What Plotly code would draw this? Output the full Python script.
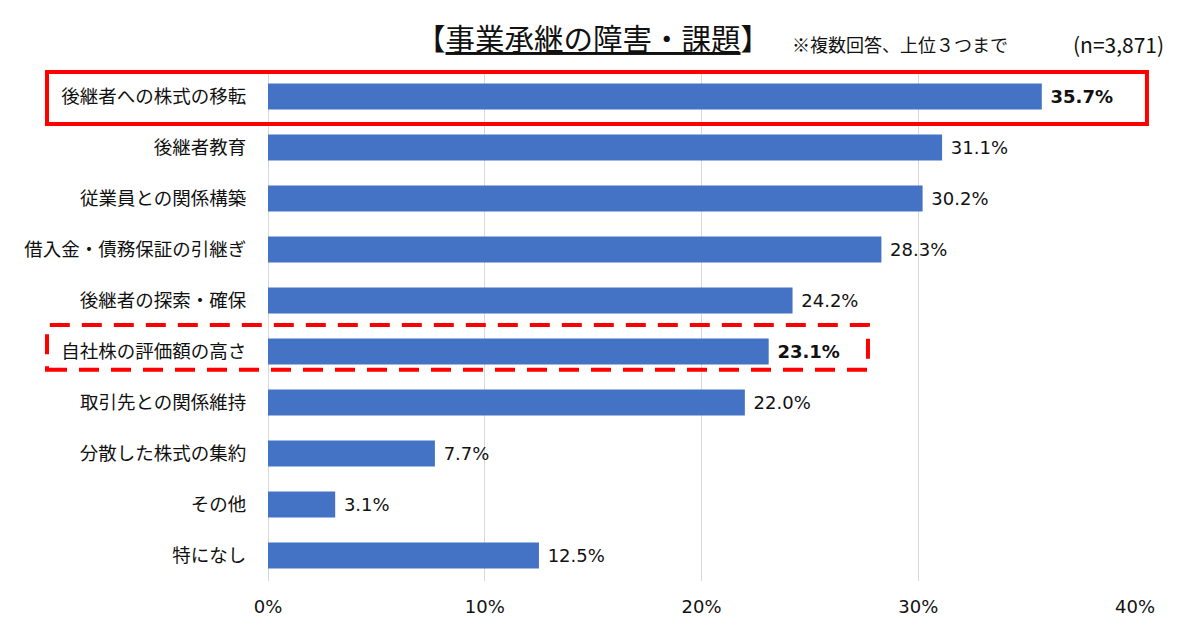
import plotly.graph_objects as go

categories = ["後継者への株式の移転", "後継者教育", "従業員との関係構築", "借入金・債務保証の引継ぎ",
              "後継者の探索・確保", "自社株の評価額の高さ", "取引先との関係維持", "分散した株式の集約",
              "その他", "特になし"]
values = [35.7, 31.1, 30.2, 28.3, 24.2, 23.1, 22.0, 7.7, 3.1, 12.5]
bold_idx = [0, 5]
tick_vals = [0, 10, 20, 30, 40]
tick_text = ["0%", "10%", "20%", "30%", "40%"]

FONT = "Noto Sans CJK JP"
NUM = "DejaVu Sans"
labels = [("\u00a0<b>%.1f%%</b>" % v) if i in bold_idx else ("\u00a0%.1f%%" % v)
          for i, v in enumerate(values)]

fig = go.Figure(go.Bar(
    y=categories, x=values, orientation="h",
    marker=dict(color="#4472C4", line=dict(width=0)),
    width=0.51,
    text=labels, textposition="outside", cliponaxis=False,
    textfont=dict(family=NUM, size=18, color="#111111"),
))

fig.update_layout(
    width=1190, height=634,
    margin=dict(l=268, r=55, t=71, b=53),
    paper_bgcolor="white", plot_bgcolor="white",
    showlegend=False,
    font=dict(family=FONT, color="#111111"),
    xaxis=dict(range=[0, 40], tickvals=tick_vals, ticktext=tick_text,
               showgrid=True, gridcolor="#D9D9D9", gridwidth=1,
               zeroline=True, zerolinecolor="#D9D9D9", zerolinewidth=1,
               showline=False, ticks="outside", ticklen=9, tickcolor="rgba(0,0,0,0)",
               tickfont=dict(family=NUM, size=18, color="#111111")),
    yaxis=dict(categoryorder="array", categoryarray=categories, autorange="reversed",
               showgrid=False, showline=False, ticks="outside", ticklen=17,
               tickcolor="rgba(0,0,0,0)",
               tickfont=dict(family=FONT, size=18.5, color="#111111")),
)

n = len(categories)
def row_y(i, up, down):
    c = 1 - (i + 0.5) / n
    return c - down, c + up

y0, y1 = row_y(0, 0.048, 0.054)
fig.add_shape(type="rect", xref="paper", yref="paper", x0=-0.2549, x1=1.0138, y0=y0, y1=y1,
              line=dict(color="#FF0000", width=4), fillcolor="rgba(0,0,0,0)", layer="above")
y0, y1 = row_y(5, 0.052, 0.036)
fig.add_shape(type="rect", xref="paper", yref="paper", x0=-0.2549, x1=0.692, y0=y0, y1=y1,
              line=dict(color="#FF0000", width=4, dash="20px,12px"), fillcolor="rgba(0,0,0,0)",
              layer="above")

fig.add_annotation(xref="paper", yref="paper", x=(593 - 268) / 867, y=1 + (71 - 37) / 510,
                   text="【<span style='text-decoration:underline'>事業承継の障害・課題</span>】",
                   showarrow=False, xanchor="center", yanchor="middle",
                   font=dict(family=FONT, size=29.5, color="#111111"))
fig.add_annotation(xref="paper", yref="paper", x=(790 - 268) / 867, y=1 + (71 - 44) / 510,
                   text="※複数回答、上位３つまで", showarrow=False, xanchor="left", yanchor="middle",
                   font=dict(family=FONT, size=18, color="#111111"))
fig.add_annotation(xref="paper", yref="paper", x=(1166 - 268) / 867, y=1 + (71 - 44) / 510,
                   text="(n=3,871)", showarrow=False, xanchor="right", yanchor="middle",
                   font=dict(family=FONT, size=21, color="#111111"))

fig.write_html("out.html")
